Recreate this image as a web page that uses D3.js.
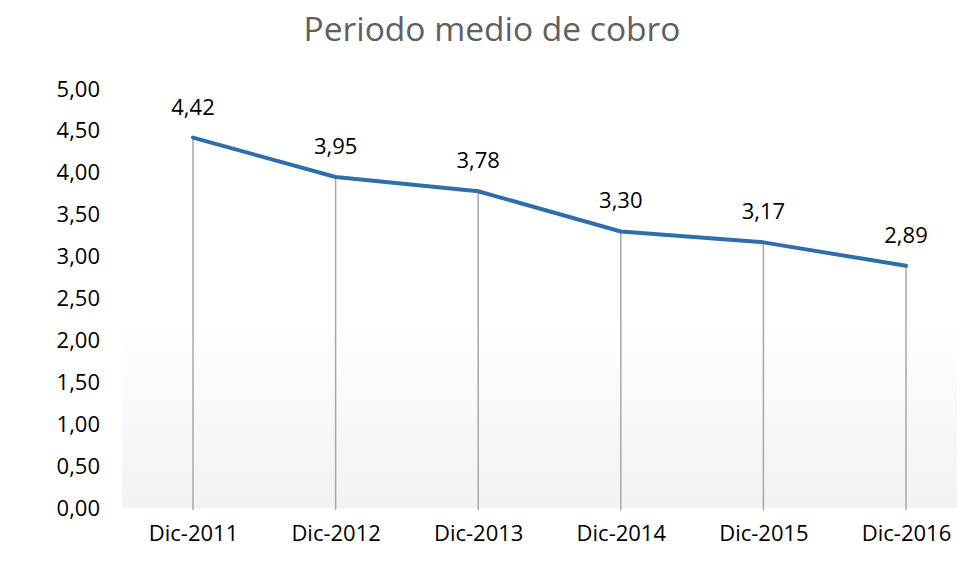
<!DOCTYPE html>
<html lang="es">
<head>
    <meta charset="UTF-8">
    <title>Periodo medio de cobro</title>
    <script src="https://d3js.org/d3.v7.min.js"></script>
    <style>
        * { margin: 0; padding: 0; box-sizing: border-box; }
        body { background: #fff; font-family: "Open Sans", Arial, sans-serif; }
    </style>
</head>
<body>
    <div id="chart"></div>
    <script>
        const categories = ["Dic-2011", "Dic-2012", "Dic-2013", "Dic-2014", "Dic-2015", "Dic-2016"];
        const values = [4.42, 3.95, 3.78, 3.30, 3.17, 2.89];
        const yTicks = [0, 0.5, 1, 1.5, 2, 2.5, 3, 3.5, 4, 4.5, 5];

        const W = 963, H = 562;
        const fmt = v => d3.format(".2f")(v).replace(".", ",");

        const svg = d3.select("#chart").append("svg")
            .attr("width", W)
            .attr("height", H);

        const x = d3.scalePoint()
            .domain(categories)
            .range([193, 906]);

        const y = d3.scaleLinear()
            .domain([0, 5])
            .range([508, 89]);

        // faint scan-like shading in the lower plot area
        const defs = svg.append("defs");
        const grad = defs.append("linearGradient")
            .attr("id", "shade").attr("x1", 0).attr("y1", 0).attr("x2", 0).attr("y2", 1);
        grad.append("stop").attr("offset", "0%").attr("stop-color", "#fff");
        grad.append("stop").attr("offset", "100%").attr("stop-color", "#f2f2f6");
        svg.append("rect")
            .attr("x", 122).attr("y", 320)
            .attr("width", 835).attr("height", y(0) - 320)
            .attr("fill", "url(#shade)");

        // title
        svg.append("text")
            .attr("x", 492)
            .attr("y", 41)
            .attr("text-anchor", "middle")
            .style("font-size", "33.5px")
            .style("fill", "#606060")
            .text("Periodo medio de cobro");

        // y axis labels (no line, no ticks)
        svg.append("g")
            .attr("transform", "translate(100,0)")
            .call(d3.axisLeft(y).tickValues(yTicks).tickSize(0).tickPadding(0).tickFormat(fmt))
            .call(g => g.select(".domain").remove())
            .selectAll("text")
            .style("font-family", "'Open Sans', Arial, sans-serif")
            .style("font-size", "22px")
            .attr("fill", "#000");

        // x axis labels
        svg.append("g")
            .attr("transform", `translate(0,${y(0)})`)
            .call(d3.axisBottom(x).tickSize(0).tickPadding(17))
            .call(g => g.select(".domain").remove())
            .selectAll("text")
            .style("font-family", "'Open Sans', Arial, sans-serif")
            .style("font-size", "22px")
            .attr("fill", "#000");

        const data = categories.map((c, i) => ({ cat: c, val: values[i] }));

        // drop lines
        svg.selectAll(".drop")
            .data(data)
            .join("line")
            .attr("class", "drop")
            .attr("x1", d => x(d.cat))
            .attr("x2", d => x(d.cat))
            .attr("y1", d => y(d.val))
            .attr("y2", y(0) + 2)
            .attr("stroke", "#a8a8a8")
            .attr("stroke-width", 1.5);

        // line
        svg.append("path")
            .datum(data)
            .attr("fill", "none")
            .attr("stroke", "#2f6eaa")
            .attr("stroke-width", 4)
            .attr("stroke-linejoin", "round")
            .attr("stroke-linecap", "round")
            .attr("d", d3.line().x(d => x(d.cat)).y(d => y(d.val)));

        // data labels
        svg.selectAll(".lbl")
            .data(data)
            .join("text")
            .attr("class", "lbl")
            .attr("x", d => x(d.cat))
            .attr("y", d => y(d.val) - 23)
            .attr("text-anchor", "middle")
            .style("font-size", "22px")
            .style("fill", "#000")
            .text(d => fmt(d.val));
    </script>
</body>
</html>
